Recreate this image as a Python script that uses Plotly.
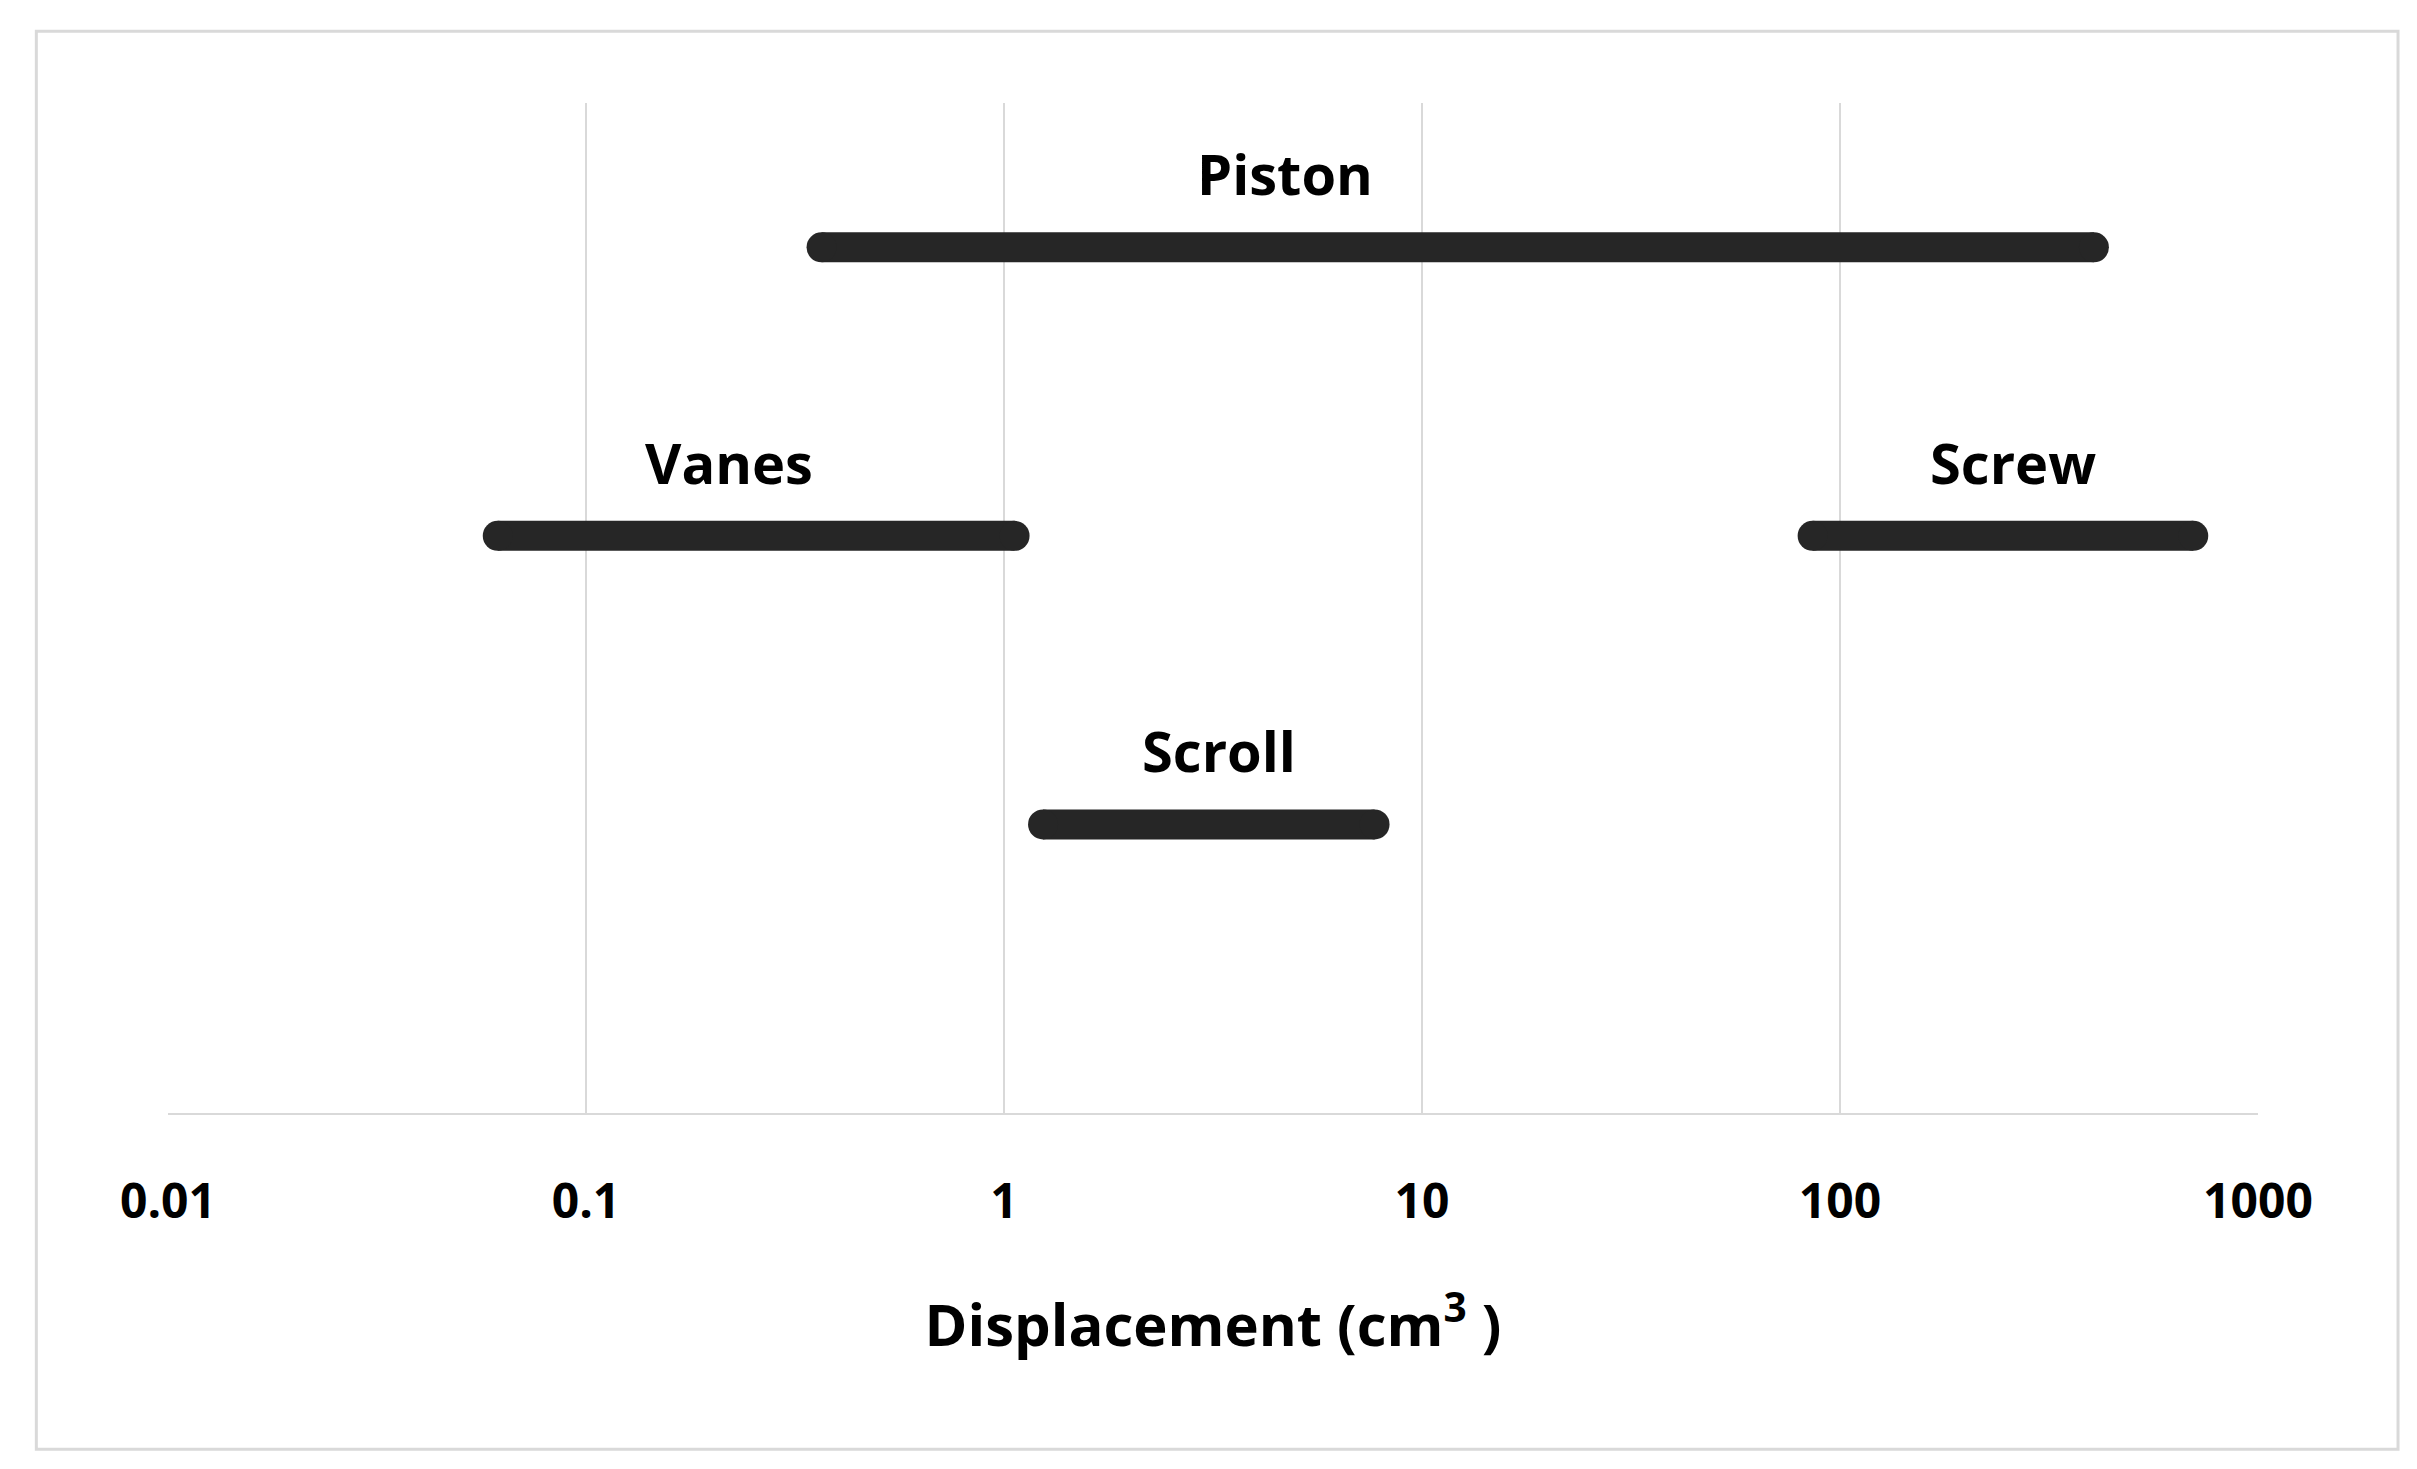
import math
import plotly.graph_objects as go

compressors = ["Piston", "Vanes", "Screw", "Scroll"]
low = [0.366, 0.0615, 86, 1.24]
high = [405, 1.06, 700, 7.7]
level = [3, 2, 2, 1]
label_x = [4.7, 0.22, 260, 3.27]

ink = "#262626"
fig = go.Figure()
for name, a, b, y in zip(compressors, low, high, level):
    fig.add_trace(go.Scatter(x=[a, b], y=[y, y], mode="lines+markers",
                             line=dict(color=ink, width=30),
                             marker=dict(color=ink, size=30), showlegend=False))
for name, lx, y in zip(compressors, label_x, level):
    fig.add_annotation(x=math.log10(lx), y=y, text="<b>%s</b>" % name,
                       showarrow=False, yshift=74, font=dict(size=56, color="black"))

fig.add_shape(type="rect", xref="paper", yref="paper", x0=-0.063, x1=1.067, y0=-0.333, y1=1.071,
              line=dict(color="#d9d9d9", width=3))

fig.update_xaxes(type="log", range=[-2, 3], tickvals=[0.01, 0.1, 1, 10, 100, 1000],
                 ticktext=["<b>0.01</b>", "<b>0.1</b>", "<b>1</b>", "<b>10</b>", "<b>100</b>", "<b>1000</b>"],
                 tickfont=dict(size=48, color="black"), ticklabelstandoff=45,
                 showgrid=True, gridcolor="#d9d9d9", gridwidth=2,
                 showline=True, linecolor="#d9d9d9", linewidth=2, zeroline=False,
                 title=dict(text="<b>Displacement (cm<sup>3</sup> )</b>", font=dict(size=58, color="black"), standoff=75))
fig.update_yaxes(range=[0, 3.5], showticklabels=False, showgrid=False, zeroline=False)
fig.update_layout(width=2417, height=1469, plot_bgcolor="white", paper_bgcolor="white",
                  font=dict(family="Open Sans"),
                  margin=dict(l=160, r=167, t=95, b=364))
fig.write_html("out.html")
